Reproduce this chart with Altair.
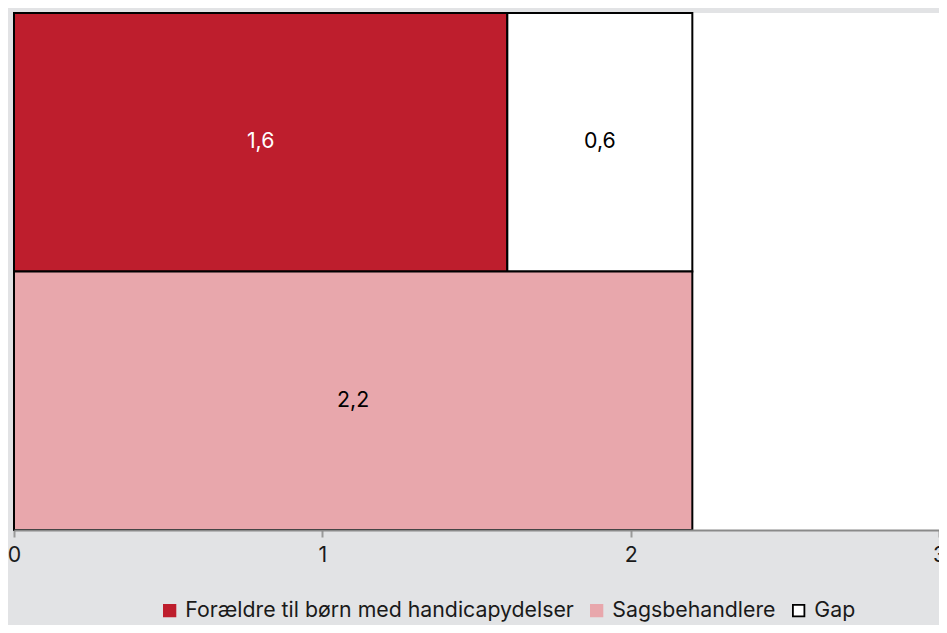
import altair as alt
import pandas as pd

rows = ["A", "A", "B"]
series = ["Forældre til børn med handicapydelser", "Gap", "Sagsbehandlere"]
values = [1.6, 0.6, 2.2]
order = [0, 1, 0]

legend_order = ["Forældre til børn med handicapydelser", "Sagsbehandlere", "Gap"]
legend_fill = ["#BE1E2D", "#E8A7AC", "#FFFFFF"]
legend_stroke = ["#BE1E2D", "#E8A7AC", "#000000"]
x_ticks = [0, 1, 2, 3]

fill_map = dict(zip(legend_order, legend_fill))
df = pd.DataFrame({"row": rows, "series": series, "value": values, "order": order,
                   "fillc": [fill_map[s] for s in series]})

base = alt.Chart(df).transform_stack(
    stack="value", as_=["x0", "x1"], groupby=["row"], sort=[alt.SortField("order")]
).transform_calculate(
    mid="(datum.x0 + datum.x1) / 2",
    label="replace(format(datum.value, '.1f'), '.', ',')",
)

FS = 21.3
xscale = alt.Scale(domain=[0, 3], nice=False, zero=True)
yscale = alt.Scale(paddingInner=0, paddingOuter=0)

leg = alt.Legend(
    title=None, orient="none", legendX=145, legendY=587,
    direction="horizontal", symbolType="square", symbolSize=132,
    labelFontSize=FS, labelFont="Inter", labelColor="#1a1a1a", labelLimit=0,
    labelOffset=5, columnPadding=12, symbolStrokeWidth=1.8,
)

keys = base.mark_square(size=2, opacity=1).encode(
    x=alt.X("mid:Q", scale=xscale),
    y=alt.Y("row:N", scale=yscale, axis=None),
    fill=alt.Fill("series:N", scale=alt.Scale(domain=legend_order, range=legend_fill),
                  sort=legend_order, legend=leg),
    stroke=alt.Stroke("series:N", scale=alt.Scale(domain=legend_order, range=legend_stroke),
                      sort=legend_order, legend=leg),
)

bars = base.mark_bar(stroke="black", strokeWidth=2).encode(
    x=alt.X("x0:Q", scale=xscale,
            axis=alt.Axis(values=x_ticks, format="d", title=None, grid=False,
                          domainColor="#8a8a8a", domainWidth=2, tickColor="#9a9a9a",
                          tickWidth=2, tickSize=7, labelFontSize=FS, labelColor="#1a1a1a",
                          labelPadding=7, labelFont="Inter", zindex=1, labelFlush=False)),
    x2="x1:Q",
    y=alt.Y("row:N", scale=yscale, axis=None),
    color=alt.Color("fillc:N", scale=None),
)

text = base.mark_text(fontSize=FS, font="Inter").encode(
    x=alt.X("mid:Q", scale=xscale),
    y=alt.Y("row:N", scale=yscale, axis=None),
    text="label:N",
    color=alt.condition("datum.series === 'Forældre til børn med handicapydelser'",
                        alt.value("white"), alt.value("black")),
)

chart = (keys + bars + text).properties(
    width=925, height=517,
    background="#E2E3E5",
    autosize=alt.AutoSizeParams(type="none"),
    padding={"left": 6, "top": 5, "right": 0, "bottom": 95},
).configure_view(fill="white", stroke=None)

chart.save("out.html", embed_options={"renderer": "svg", "actions": False})
